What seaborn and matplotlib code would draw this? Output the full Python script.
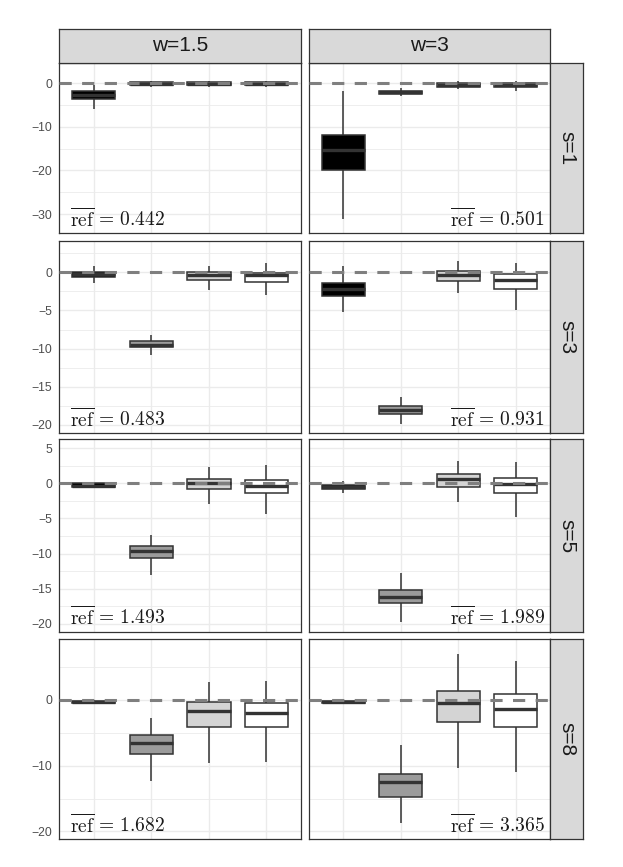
import numpy as np
import pandas as pd
import matplotlib
matplotlib.use("Agg")
import matplotlib.pyplot as plt
import seaborn as sns

# ---- data (five-number summaries) ----
methods = ["M1", "M2", "M3", "M4"]
fills = ["#000000", "#9B9B9B", "#D4D4D4", "#FFFFFF"]
s_levels = ["s=1", "s=3", "s=5", "s=8"]
w_levels = ["w=1.5", "w=3"]
ref_vals = [["0.442", "0.501"], ["0.483", "0.931"],
            ["1.493", "1.989"], ["1.682", "3.365"]]

# indexed [s][w][method]
whisk_lo = [
    [[-6.0, -0.9, -0.8, -0.9], [-31.2, -2.9, -1.4, -1.9]],
    [[-1.45, -10.9, -2.3, -3.0], [-5.25, -19.9, -2.7, -4.9]],
    [[-0.6, -13.0, -2.9, -4.4], [-1.4, -19.8, -2.6, -4.75]],
    [[-0.6, -12.3, -9.6, -9.4], [-0.6, -18.7, -10.4, -11.0]],
]
q1 = [
    [[-3.6, -0.5, -0.4, -0.45], [-19.9, -2.5, -0.8, -0.9]],
    [[-0.65, -9.85, -1.0, -1.3], [-3.1, -18.6, -1.1, -2.2]],
    [[-0.5, -10.6, -0.85, -1.4], [-0.85, -17.1, -0.5, -1.4]],
    [[-0.55, -8.2, -4.15, -4.15], [-0.55, -14.8, -3.4, -4.15]],
]
median = [
    [[-2.7, -0.15, -0.1, -0.1], [-15.3, -2.1, -0.3, -0.4]],
    [[-0.26, -9.5, -0.4, -0.3], [-2.2, -18.1, -0.35, -1.0]],
    [[-0.3, -9.6, 0.1, -0.4], [-0.5, -16.2, 0.7, -0.1]],
    [[-0.35, -6.5, -1.7, -2.0], [-0.35, -12.5, -0.5, -1.4]],
]
q3 = [
    [[-1.7, 0.2, 0.2, 0.2], [-11.8, -1.7, 0.15, 0.0]],
    [[0.1, -9.0, 0.0, -0.05], [-1.35, -17.5, 0.2, -0.2]],
    [[0.0, -8.9, 0.6, 0.5], [-0.24, -15.2, 1.3, 0.8]],
    [[-0.1, -5.3, -0.3, -0.45], [-0.1, -11.2, 1.3, 0.9]],
]
whisk_hi = [
    [[-0.4, 0.6, 0.6, 0.6], [-1.9, -1.15, 0.6, 0.6]],
    [[0.8, -8.2, 0.8, 1.2], [0.8, -16.4, 1.5, 1.2]],
    [[0.1, -7.4, 2.3, 2.6], [0.35, -12.8, 3.2, 3.0]],
    [[-0.05, -2.8, 2.7, 2.8], [-0.05, -6.9, 7.0, 5.9]],
]

# long-form table: five values per box reproduce the summary exactly
rows = []
for i, s in enumerate(s_levels):
    for j, w in enumerate(w_levels):
        for k, m in enumerate(methods):
            for stat in (whisk_lo, q1, median, q3, whisk_hi):
                rows.append({"s": s, "w": w, "method": m, "value": stat[i][j][k]})
df = pd.DataFrame(rows)

# ---- layout ----
sns.set_theme(style="white")
plt.rcParams["font.family"] = ["Liberation Sans", "DejaVu Sans"]
plt.rcParams["mathtext.fontset"] = "cm"

W, H = 623, 867
fig = plt.figure(figsize=(W / 100, H / 100), dpi=100)


def px_axes(x0, y0, x1, y1):
    return fig.add_axes([x0 / W, 1 - y1 / H, (x1 - x0) / W, (y1 - y0) / H])


col_x = [(59.3, 301.0), (309.0, 550.0)]
row_y = [(62.7, 233.3), (241.0, 433.3), (439.3, 632.0), (638.7, 839.3)]
ylims = [(-34.4, 4.7), (-21.1, 4.1), (-21.2, 6.3), (-21.2, 9.3)]
major = [[0, -10, -20, -30], [0, -5, -10, -15, -20],
         [5, 0, -5, -10, -15, -20], [0, -10, -20]]
minor = [[-5, -15, -25], [2.5, -2.5, -7.5, -12.5, -17.5],
         [2.5, -2.5, -7.5, -12.5, -17.5], [5, -5, -15]]

edge = "#333333"
palette = dict(zip(methods, fills))


def style_strip(st):
    st.set_facecolor("#d9d9d9")
    st.set_xticks([])
    st.set_yticks([])
    for sp in st.spines.values():
        sp.set_color(edge)
        sp.set_linewidth(0.9)


for i, s in enumerate(s_levels):
    for j, w in enumerate(w_levels):
        x0, x1 = col_x[j]
        y0, y1 = row_y[i]
        ax = px_axes(x0, y0, x1, y1)
        sub = df[(df.s == s) & (df.w == w)]
        sns.boxplot(data=sub, x="method", y="value", hue="method", order=methods,
                    palette=palette, whis=(0, 100), width=0.75, showcaps=False,
                    linecolor=edge, linewidth=1.1, legend=False,
                    medianprops={"linewidth": 2.4, "color": edge},
                    ax=ax)
        ax.axhline(0, color="#7f7f7f", lw=2.2, ls=(0, (4, 3.4)), zorder=6)
        ax.set_xlim(-0.6, 3.6)
        ax.set_ylim(*ylims[i])
        ax.set_yticks(major[i])
        ax.set_yticks(minor[i], minor=True)
        ax.set_xticks(range(4))
        ax.set_axisbelow(True)
        ax.grid(True, which="major", color="#ebebeb", lw=1.0)
        ax.grid(True, which="minor", axis="y", color="#ebebeb", lw=0.6)
        ax.set_xlabel("")
        ax.set_ylabel("")
        ax.tick_params(axis="x", length=0, labelbottom=False)
        ax.tick_params(axis="y", which="both", length=0, pad=5,
                       labelsize=8.8, labelcolor="#4d4d4d")
        if j == 1:
            ax.tick_params(axis="y", labelleft=False)
        for sp in ax.spines.values():
            sp.set_color(edge)
            sp.set_linewidth(0.9)

        label = r"$\overline{\mathrm{ref}}\,=\," + ref_vals[i][j] + "$"
        if j == 0:
            ax.annotate(label, xy=(0, 0), xycoords="axes fraction",
                        xytext=(11, 7), textcoords="offset pixels",
                        ha="left", va="baseline", fontsize=14, color="#1a1a1a")
        else:
            ax.annotate(label, xy=(1, 0), xycoords="axes fraction",
                        xytext=(-5, 7), textcoords="offset pixels",
                        ha="right", va="baseline", fontsize=14, color="#1a1a1a")

        # right-hand strip for the row
        if j == 1:
            st = px_axes(550.0, y0, 583.0, y1)
            style_strip(st)
            st.text(0.5, 0.5, s, rotation=-90, ha="center", va="center",
                    fontsize=15, color="#1a1a1a", transform=st.transAxes)

# top strips
for j, w in enumerate(w_levels):
    x0, x1 = col_x[j]
    st = px_axes(x0, 29.0, x1, 62.7)
    style_strip(st)
    st.text(0.5, 0.5, w, ha="center", va="center", fontsize=15,
            color="#1a1a1a", transform=st.transAxes)

fig.savefig("out.png", dpi=100)
